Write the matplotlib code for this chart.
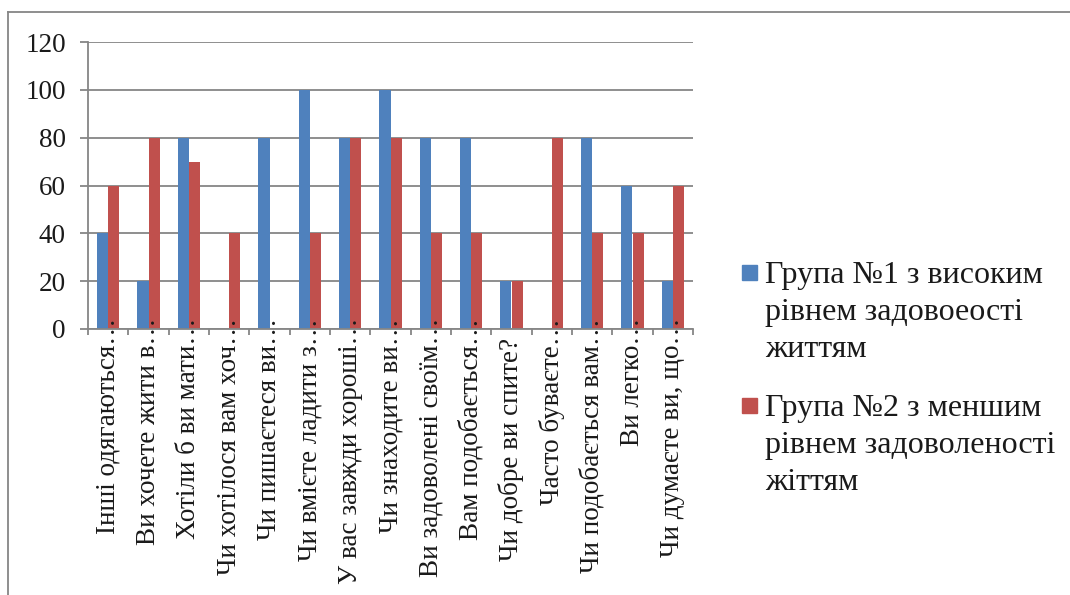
import matplotlib.pyplot as plt
import numpy as np
from matplotlib.patches import Rectangle
from matplotlib.lines import Line2D
from matplotlib.transforms import ScaledTranslation

plt.rcParams['font.family'] = ['Liberation Serif', 'DejaVu Serif']

# питання анкети (скорочені підписи)
questions = [
    'Інші одягаються…',
    'Ви хочете жити в…',
    'Хотіли б ви мати…',
    'Чи хотілося вам хоч…',
    'Чи пишаєтеся ви…',
    'Чи вмієте ладити з…',
    'У вас завжди хороші…',
    'Чи знаходите ви…',
    'Ви задоволені своїм…',
    'Вам подобається…',
    'Чи добре ви спите?',
    'Часто буваєте…',
    'Чи подобається вам…',
    'Ви легко…',
    'Чи думаєте ви, що…',
]
group1 = [40, 20, 80, 0, 80, 100, 80, 100, 80, 80, 20, 0, 80, 60, 20]
group2 = [60, 80, 70, 40, 0, 40, 80, 80, 40, 40, 20, 80, 40, 40, 60]

label1 = 'Група №1 з високим\nрівнем задовоеості\nжиттям'
label2 = 'Група №2 з меншим\nрівнем задоволеності\nжіттям'
yticks = [0, 20, 40, 60, 80, 100, 120]

blue = '#4F81BD'
red = '#C0504D'
grey = '#868686'
ink = '#1a1a1a'

W, H = 1070, 595
fig = plt.figure(figsize=(W / 100, H / 100), dpi=100)

# рамка діаграми
fig.add_artist(Line2D([8 / W, 1], [1 - 12 / H, 1 - 12 / H], color=grey, lw=1.3))
fig.add_artist(Line2D([8 / W, 8 / W], [0, 1 - 12 / H], color=grey, lw=1.3))

ax = fig.add_axes([88 / W, (H - 329) / H, (693 - 88) / W, (329 - 42) / H])

x = np.arange(len(questions))
w = 0.28
ax.bar(x - w / 2, group1, w, color=blue, zorder=1)
ax.bar(x + w / 2, group2, w, color=red, zorder=1)

ax.set_xlim(-0.5, len(questions) - 0.5)
ax.set_ylim(0, 120)
ax.set_yticks(yticks)
ax.yaxis.grid(True, color=grey, lw=1.3)
ax.yaxis.set_zorder(0.5)
ax.xaxis.set_zorder(2.5)

for s in ['top', 'right']:
    ax.spines[s].set_visible(False)
for s in ['left', 'bottom']:
    ax.spines[s].set_color(grey)
    ax.spines[s].set_linewidth(1.3)

ax.tick_params(axis='y', length=6, width=1.3, color=grey, labelsize=19.5,
               labelcolor=ink, pad=10)
ax.set_xticks(x)
ax.set_xticklabels(questions, rotation=90, fontsize=19.5, color=ink)
ax.tick_params(axis='x', which='major', length=0, pad=-8)
ax.set_xticks(np.arange(-0.5, len(questions)), minor=True)
ax.tick_params(axis='x', which='minor', length=4, width=1.3, color=grey)

# обрізані підписи з "…" виступають вгору, повні - нижче осі
for lbl in ax.get_xticklabels():
    if not lbl.get_text().endswith('…'):
        lbl.set_transform(lbl.get_transform() +
                          ScaledTranslation(0, -20 / 100, fig.dpi_scale_trans))

# легенда
legend_items = [(blue, label1, 265), (red, label2, 398)]
for color, label, top in legend_items:
    fig.add_artist(Rectangle((742 / W, 1 - (top + 15) / H), 15 / W, 15 / H,
                             color=color, transform=fig.transFigure))
    for i, line in enumerate(label.split('\n')):
        fig.text(765 / W, 1 - (top + 18 + 37 * i) / H, line, fontsize=23,
                 ha='left', va='baseline', color=ink)

fig.savefig('out.png', dpi=100)
